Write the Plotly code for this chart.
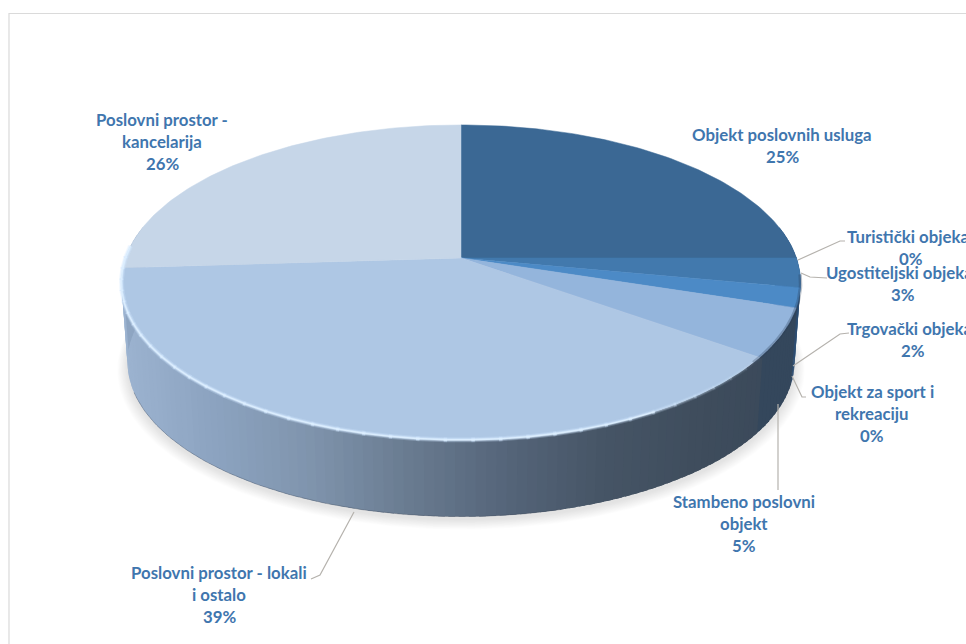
import math
import plotly.graph_objects as go

# Category shares in percent, clockwise from twelve o'clock
names = [
    ["Objekt poslovnih usluga"],
    ["Turistički objekat"],
    ["Ugostiteljski objekat"],
    ["Trgovački objekat"],
    ["Objekt za sport i", "rekreaciju"],
    ["Stambeno poslovni", "objekt"],
    ["Poslovni prostor - lokali", "i ostalo"],
    ["Poslovni prostor -", "kancelarija"],
]
shares = [25, 0, 3, 2, 0, 5, 39, 26]

face_colors = ["#3b6894", "#3f74a8", "#4279ad", "#4c8ac6", "#6d9bcf", "#94b5dc", "#aec7e4", "#c6d6e8"]
side_colors = ["#2b5582", "#2b5582", "#2b5987", "#2d4c70", "#2f475f", "#34475c", None, "#8ea5c2"]
lokali_ramp = [(122, "#9cb3d0"), (200, "#8ea5c2"), (300, "#8095ae"), (400, "#6a7c91"),
               (500, "#55657a"), (600, "#465566"), (700, "#3f4d5d"), (770, "#3b4a5b")]

# Where each label block is centred and how its leader line runs
label_xy = [(782, 134), (911, 236), (903, 272), (913, 328), (872, 391), (744, 501), (219, 572), (162, 119)]
leaders = {
    1: [(798, 260), (840, 241), (845, 241)],
    2: [(801, 273), (810, 277), (827, 278)],
    3: [(793, 366), (840, 334), (849, 333)],
    4: [(792, 376), (802, 397), (806, 397)],
    5: [(778, 404), (778, 490)],
    6: [(354, 512), (320, 575), (311, 579)],
}
TEXT_COLOR = "#3f76ae"
LINE_HEIGHT = 22.4

# Perspective disc: circle in the plane projected on to the page
CX, CY, A, B, K = 461.0, 258.0, 335.5, 153.7, 0.155
DROP, BASE_SCALE = 80.0, 0.982


def project(theta, scale=1.0, drop=0.0):
    u, v = math.sin(math.radians(theta)), -math.cos(math.radians(theta))
    d = 1 - K * v
    return CX + scale * A * u / d, CY + drop + scale * B * v / d


def arc(t0, t1, scale=1.0, drop=0.0, step=1.0):
    n = max(1, int(abs(t1 - t0) / step))
    return [project(t0 + (t1 - t0) * i / n, scale, drop) for i in range(n + 1)]


def mix(stops, x):
    def rgb(h):
        return [int(h[i:i + 2], 16) for i in (1, 3, 5)]
    if x <= stops[0][0]:
        return stops[0][1]
    for (x0, c0), (x1, c1) in zip(stops, stops[1:]):
        if x <= x1:
            f = (x - x0) / (x1 - x0)
            a, b = rgb(c0), rgb(c1)
            return "rgb(%d,%d,%d)" % tuple(a[i] + (b[i] - a[i]) * f for i in range(3))
    return stops[-1][1]


fig = go.Figure()


def poly(points, fill, line=None, width=0):
    fig.add_trace(go.Scatter(
        x=[p[0] for p in points], y=[p[1] for p in points],
        mode="lines", fill="toself", fillcolor=fill,
        line=dict(color=line or "rgba(0,0,0,0)", width=width),
        hoverinfo="skip", showlegend=False))


def stroke(points, color, width):
    fig.add_trace(go.Scatter(
        x=[p[0] for p in points], y=[p[1] for p in points],
        mode="lines", line=dict(color=color, width=width),
        hoverinfo="skip", showlegend=False))


# Soft drop shadow under the disc, widest layer first
for i in range(14):
    grow = 0.030 - 0.0022 * i
    poly(arc(55, 305, BASE_SCALE + grow, DROP + 3 + grow * 150), "rgba(125,122,118,0.014)")

# Cumulative slice boundaries in degrees
bounds = [0.0]
for s in shares:
    bounds.append(bounds[-1] + s * 3.6)

# Side wall, cut into narrow overlapping strips so the shading can run across it
for i, s in enumerate(shares):
    t0, t1 = bounds[i], bounds[i + 1]
    t0v, t1v = max(t0, 78), min(t1, 282)
    if s == 0 or t1v <= t0v:
        continue
    n = max(1, int((t1v - t0v) / 1.5))
    for j in range(n):
        a0 = t0v + (t1v - t0v) * j / n
        a1 = t0v + (t1v - t0v) * (j + 1) / n
        back = max(78, a0 - 1.0)
        xm = project((a0 + a1) / 2)[0]
        col = side_colors[i] if side_colors[i] else mix(lokali_ramp, xm)
        poly(arc(back, a1, step=0.5) + arc(a1, back, BASE_SCALE, DROP, step=0.5), col)

# Thin dark edge where the wall meets the ground
stroke(arc(165, 250, BASE_SCALE, DROP), "rgba(60,70,85,0.40)", 0.8)

# Top face slices
for i, s in enumerate(shares):
    if s == 0:
        continue
    pts = [(CX, CY)] + arc(bounds[i], bounds[i + 1]) + [(CX, CY)]
    poly(pts, face_colors[i], face_colors[i], 0.5)

# Bevel along the front rim: dark and soft towards the right, bright to the left
stroke(arc(96, 128), "rgba(40,60,85,0.30)", 3.5)
for t in range(126, 272, 4):
    strength = min(1.0, (t - 122) / 40.0)
    seg = arc(t, t + 4.5)
    stroke(seg, f"rgba(208,230,255,{0.28 * strength:.3f})", 5)
    stroke(seg, f"rgba(215,235,255,{0.55 * strength:.3f})", 3)
    if t >= 150:
        stroke(seg, "rgba(222,240,255,0.85)", 1.4)

# Leader lines
for pts in leaders.values():
    stroke(pts, "#b5b2ad", 1.2)

# Chart frame, open on the right and at the bottom
stroke([(9, 644), (9, 13.5), (966, 13.5)], "#dadada", 1.2)

# Data labels: name lines followed by the share
for i, lines in enumerate(names):
    x, y = label_xy[i]
    for k, text in enumerate(lines + [f"{shares[i]}%"]):
        fig.add_annotation(x=x, y=y + k * LINE_HEIGHT, text=text, showarrow=False,
                           xanchor="center", yanchor="middle",
                           font=dict(family="Lato", size=16.8, color=TEXT_COLOR, weight=700))

fig.update_layout(
    width=966, height=644, margin=dict(l=0, r=0, t=0, b=0),
    paper_bgcolor="white", plot_bgcolor="white", showlegend=False,
    xaxis=dict(range=[0, 966], visible=False, fixedrange=True),
    yaxis=dict(range=[644, 0], visible=False, fixedrange=True),
)
fig.write_html("out.html", config={"displayModeBar": False})
